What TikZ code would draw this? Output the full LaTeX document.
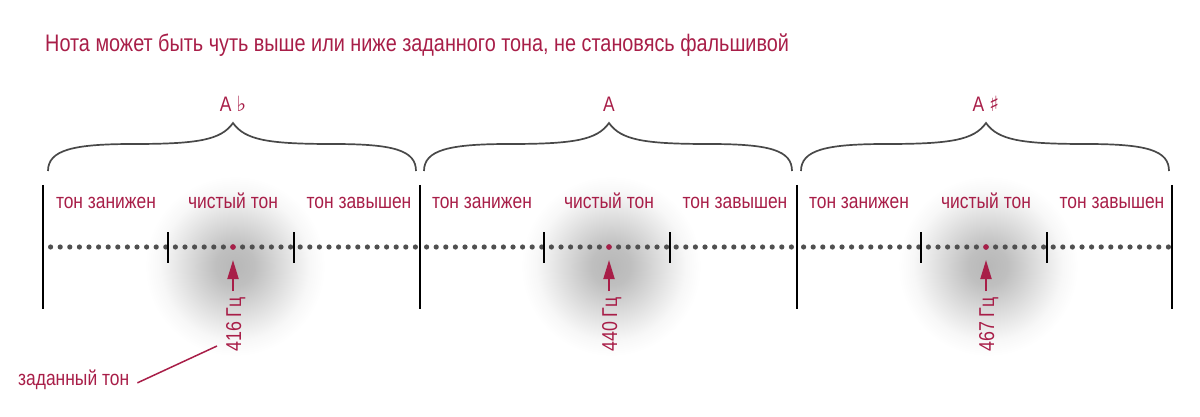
\documentclass[tikz,border=0pt]{standalone}
\usepackage{fontspec}
\usetikzlibrary{arrows.meta}
\newfontfamily\narrow[FakeStretch=0.83]{Liberation Sans}
\newfontfamily\symfont{DejaVu Sans}
\definecolor{wine}{RGB}{168,30,72}
\definecolor{dotgray}{RGB}{80,80,80}
\definecolor{bracegray}{RGB}{72,72,72}
\pgfdeclareradialshading{glow}{\pgfpoint{0bp}{0bp}}{color(0bp)=(black!28); color(5bp)=(black!25); color(10bp)=(black!17); color(15bp)=(black!9); color(19bp)=(black!3); color(23bp)=(white); color(50bp)=(white)}
\tikzset{
  lbl/.style={text=wine, font=\narrow\fontsize{21}{24}\selectfont, inner sep=0pt, anchor=base},
  ttl/.style={text=wine, font=\narrow\fontsize{23.9}{27}\selectfont, inner sep=0pt, anchor=base west},
  bar/.style={line width=2pt, black},
  tick/.style={line width=1.4pt, black},
  brace/.style={line width=1.7pt, bracegray},
  dot/.style={fill=dotgray},
  reddot/.style={circle, fill=wine, inner sep=0pt, minimum size=5.6pt},
  freq/.style={text=wine, font=\narrow\fontsize{21.5}{24}\selectfont, inner sep=0pt, rotate=90, anchor=base east},
  pointer/.style={wine, line width=2pt, -{Triangle[length=19pt,width=11pt]}},
  leader/.style={wine, line width=1.5pt}
}
\begin{document}
\begin{tikzpicture}[x=1pt,y=-1pt]
\useasboundingbox (0,0) rectangle (1200,417);
% glows
\foreach \c in {233,609,986} {
  \shade[shading=glow] (\c+2,266) circle (98);
}
% title
\node[ttl] (title) at (45,52) {Нота может быть чуть выше или ниже заданного тона, не становясь фальшивой};
% groups
\foreach \c/\nm/\hz/\i in {233/{A {\symfont\fontsize{21}{23}\selectfont ♭}}/416/1, 609/A/440/2, 986/{A {\symfont\fontsize{21}{23}\selectfont ♯}}/467/3} {
  % brace
  \draw[brace] (\c-185,171) .. controls (\c-185,150) and (\c-160,144) .. (\c-100,144)
     .. controls (\c-35,144) and (\c-12,140) .. (\c,123)
     .. controls (\c+12,140) and (\c+35,144) .. (\c+100,144)
     .. controls (\c+160,144) and (\c+183,150) .. (\c+183,171);
  \node[lbl] (note\i) at (\c,112) {\nm};
  % section labels
  \node[lbl] (low\i) at (\c-127,208) {тон занижен};
  \node[lbl] (pure\i) at (\c,208) {чистый тон};
  \node[lbl] (high\i) at (\c+126,208) {тон завышен};
  % dots
  \foreach \k in {-19,...,19} {
    \fill[dot] (\c+\k*9.6,247) circle (2.6);
  }
  % ticks
  \draw[tick] (\c-65,232) -- (\c-65,263);
  \draw[tick] (\c+61,232) -- (\c+61,263);
  % red dot and arrow
  \node[reddot] (red\i) at (\c,247) {};
  \coordinate (tail\i) at (\c,291);
  \draw[pointer, shorten >=10pt] (tail\i) -- (red\i);
  \node[freq] (hz\i) at (\c+8,297) {\hz{} Гц};
}
% bars
\foreach \x/\i in {43/1,420/2,797/3,1172/4} {
  \draw[bar] (\x,185) -- (\x,309);
}
% leader
\node[lbl, anchor=base west] (given) at (18,385) {заданный тон};
\coordinate (lead) at (217,346);
\draw[leader] ([xshift=8pt]given.mid east) -- (lead);
\end{tikzpicture}
\end{document}
